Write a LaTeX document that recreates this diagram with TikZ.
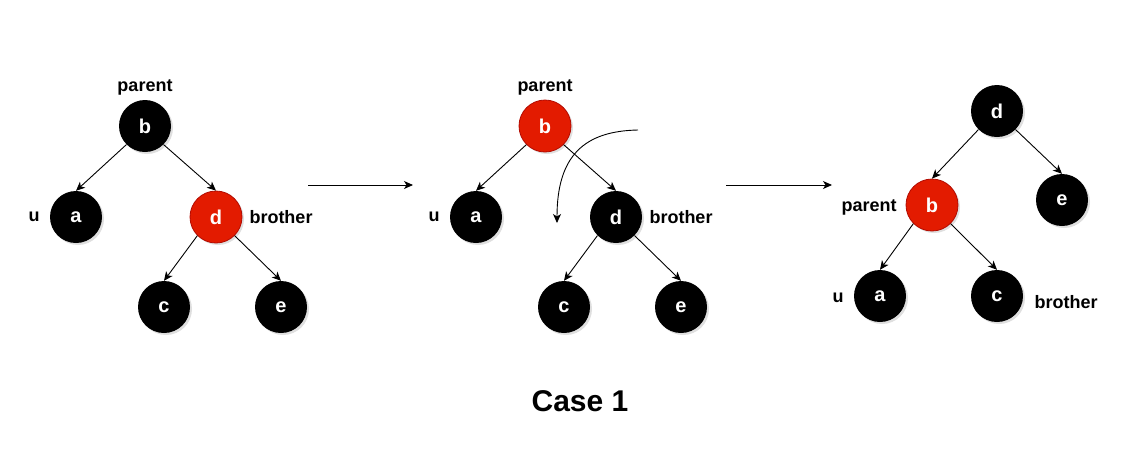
\documentclass[tikz,border=0pt]{standalone}
\usepackage{fontspec}
\setmainfont{Liberation Sans}
\usepackage{tikz}
\usetikzlibrary{arrows.meta}
\usetikzlibrary{positioning}
\usetikzlibrary{shadows}
\tikzset{>={Stealth[length=9pt, width=8pt, inset=2.5pt]}}

\definecolor{nodeRed}{RGB}{227,27,0}
\definecolor{nodeRedBorder}{RGB}{178,10,0}

\tikzset{
    rbnode/.style={circle, minimum size=52pt, inner sep=0pt, text=white,
        font=\fontsize{20}{22}\selectfont\bfseries,
        drop shadow={opacity=0.25, shadow xshift=2pt, shadow yshift=-2pt}},
    blacknode/.style={rbnode, fill=black},
    rednode/.style={rbnode, fill=nodeRed, draw=nodeRedBorder, line width=0.8pt},
    tag/.style={inner sep=0pt, font=\fontsize{18}{20}\selectfont\bfseries},
    link/.style={->, line width=0.9pt}
}

\begin{document}
\begin{tikzpicture}[x=1pt, y=-1pt, on grid]
            \useasboundingbox (0,0) rectangle (1127,459);

            % before
            \node [blacknode] (bBefore) at (145,126) {b};
            \node [blacknode, below left=91pt and 69pt of bBefore] (aBefore) {a};
            \node [rednode, below right=91pt and 71pt of bBefore] (dBefore) {d};
            \node [blacknode, below left=90pt and 52pt of dBefore] (cBefore) {c};
            \node [blacknode, below right=90pt and 65pt of dBefore] (eBefore) {e};
            \node [tag, above=39pt of bBefore] (parentBefore) {parent};
            \node [tag, left=42pt of aBefore] (uBefore) {u};
            \node [tag, right=65pt of dBefore] (brotherBefore) {brother};
            \draw [link] (bBefore.south west)--(aBefore.north);
            \draw [link] (bBefore.south east)--(dBefore.north);
            \draw [link] (dBefore.south west)--(cBefore.north);
            \draw [link] (dBefore.south east)--(eBefore.north);

            \coordinate (stepOneStart) at (308,185);
            \coordinate (stepOneEnd) at (413,185);
            \draw [link] (stepOneStart)--(stepOneEnd);

            % recoloured
            \node [rednode] (bMid) at (545,126) {b};
            \node [blacknode, below left=91pt and 69pt of bMid] (aMid) {a};
            \node [blacknode, below right=91pt and 71pt of bMid] (dMid) {d};
            \node [blacknode, below left=90pt and 52pt of dMid] (cMid) {c};
            \node [blacknode, below right=90pt and 65pt of dMid] (eMid) {e};
            \node [tag, above=39pt of bMid] (parentMid) {parent};
            \node [tag, left=42pt of aMid] (uMid) {u};
            \node [tag, right=65pt of dMid] (brotherMid) {brother};
            \draw [link] (bMid.south west)--(aMid.north);
            \draw [link] (bMid.south east)--(dMid.north);
            \draw [link] (dMid.south west)--(cMid.north);
            \draw [link] (dMid.south east)--(eMid.north);

            \coordinate (turnStart) at (638,130);
            \coordinate (turnEnd) at (557,223);
            \draw [link] (turnStart) .. controls (585,131) and (557,155) .. (turnEnd);

            \coordinate (stepTwoStart) at (726,185);
            \coordinate (stepTwoEnd) at (832,185);
            \draw [link] (stepTwoStart)--(stepTwoEnd);

            % after rotation
            \node [blacknode] (dAfter) at (997,111) {d};
            \node [rednode, below left=94pt and 65pt of dAfter] (bAfter) {b};
            \node [blacknode, below right=89pt and 65pt of dAfter] (eAfter) {e};
            \node [blacknode, below left=91pt and 52pt of bAfter] (aAfter) {a};
            \node [blacknode, below right=91pt and 65pt of bAfter] (cAfter) {c};
            \node [tag, left=63pt of bAfter, yshift=-2pt] (parentAfter) {parent};
            \node [tag, left=42pt of aAfter, yshift=-2pt] (uAfter) {u};
            \node [tag, right=69pt of cAfter, yshift=-6pt] (brotherAfter) {brother};
            \draw [link] (dAfter.south west)--(bAfter.north);
            \draw [link] (dAfter.south east)--(eAfter.north);
            \draw [link] (bAfter.south west)--(aAfter.north);
            \draw [link] (bAfter.south east)--(cAfter.north);

            \node [font=\fontsize{30}{34}\selectfont\bfseries] (caseTitle) at (580,401) {Case 1};
        \end{tikzpicture}
\end{document}
